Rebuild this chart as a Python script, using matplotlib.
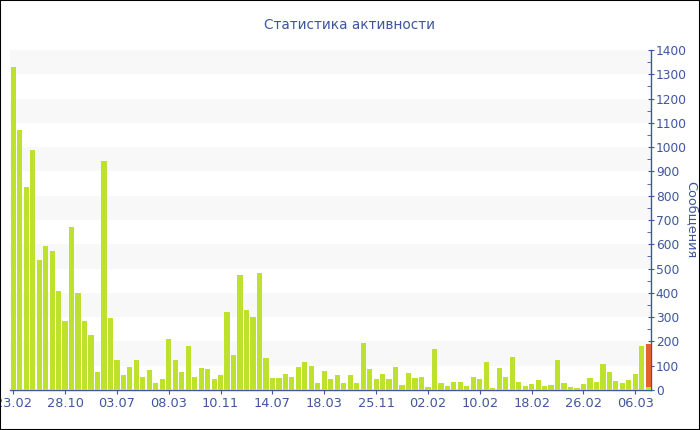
import matplotlib
matplotlib.use("Agg")
import matplotlib.pyplot as plt
from matplotlib.patches import Rectangle
from matplotlib.ticker import MultipleLocator

values = [1330, 1070, 836, 988, 535, 594, 572, 408, 284, 670,
          399, 284, 226, 76, 941, 298, 123, 62, 93, 123,
          53, 81, 29, 45, 209, 122, 74, 183, 52, 91,
          86, 47, 63, 320, 145, 472, 331, 299, 480, 130,
          49, 48, 64, 54, 93, 115, 99, 27, 77, 45,
          60, 27, 60, 30, 194, 86, 45, 66, 44, 93,
          21, 71, 48, 52, 12, 169, 27, 18, 32, 32,
          15, 55, 44, 117, 10, 92, 52, 136, 34, 18,
          25, 41, 18, 21, 123, 30, 11, 7, 25, 48,
          32, 107, 73, 37, 30, 41, 67, 180, 13]
extra_last = 176  # orange part stacked on the last bar
tick_labels = ["23.02", "28.10", "03.07", "08.03", "10.11", "14.07", "18.03",
               "25.11", "02.02", "10.02", "18.02", "26.02", "06.03"]
tick_step = 8

title = "Статистика активности"
ylabel = "Сообщения"
blue = "#3f55a0"
green = "#bde12d"
orange = "#e4602c"

fig = plt.figure(figsize=(7, 4.3), dpi=100)
ax = fig.add_axes([10/700, 1-390/430, 641/700, 340/430])

n = len(values)
x = list(range(n))
ax.bar(x, values, width=0.8, color=green, zorder=3)
ax.bar([n-1], [extra_last], bottom=[values[-1]], width=0.8, color=orange, zorder=3)

# background bands
for lo in range(100, 1400, 200):
    ax.axhspan(lo, lo+100, color="#f8f8f8", zorder=0, lw=0)

ax.set_xlim(-0.5, n - 0.58)
ax.set_ylim(0, 1400)

ax.yaxis.tick_right()
ax.yaxis.set_label_position("right")
ax.yaxis.set_major_locator(MultipleLocator(100))
ax.yaxis.set_minor_locator(MultipleLocator(50))
ax.set_xticks(list(range(0, n, tick_step))[:len(tick_labels)])
ax.set_xticklabels(tick_labels)

for s in ["top", "left"]:
    ax.spines[s].set_visible(False)
for s in ["right", "bottom"]:
    ax.spines[s].set_color(blue)
    ax.spines[s].set_linewidth(1)

ax.tick_params(axis="y", which="major", direction="inout", length=5, color=blue,
               labelcolor=blue, labelsize=8.8, pad=1)
ax.tick_params(axis="y", which="minor", direction="in", length=3, color=blue)
ax.tick_params(axis="x", direction="out", length=3, color=blue,
               labelcolor=blue, labelsize=9.3, pad=2)

ax.set_ylabel(ylabel, color=blue, fontsize=9.3, rotation=270, labelpad=8)
fig.text(0.5, 1-25/430, title, color=blue, fontsize=9.8, ha="center", va="center")

fig.patches.append(Rectangle((0, 0), 1, 1, transform=fig.transFigure,
                             fill=False, edgecolor="black", lw=1.5, zorder=10))

fig.savefig("out.png", dpi=100)
